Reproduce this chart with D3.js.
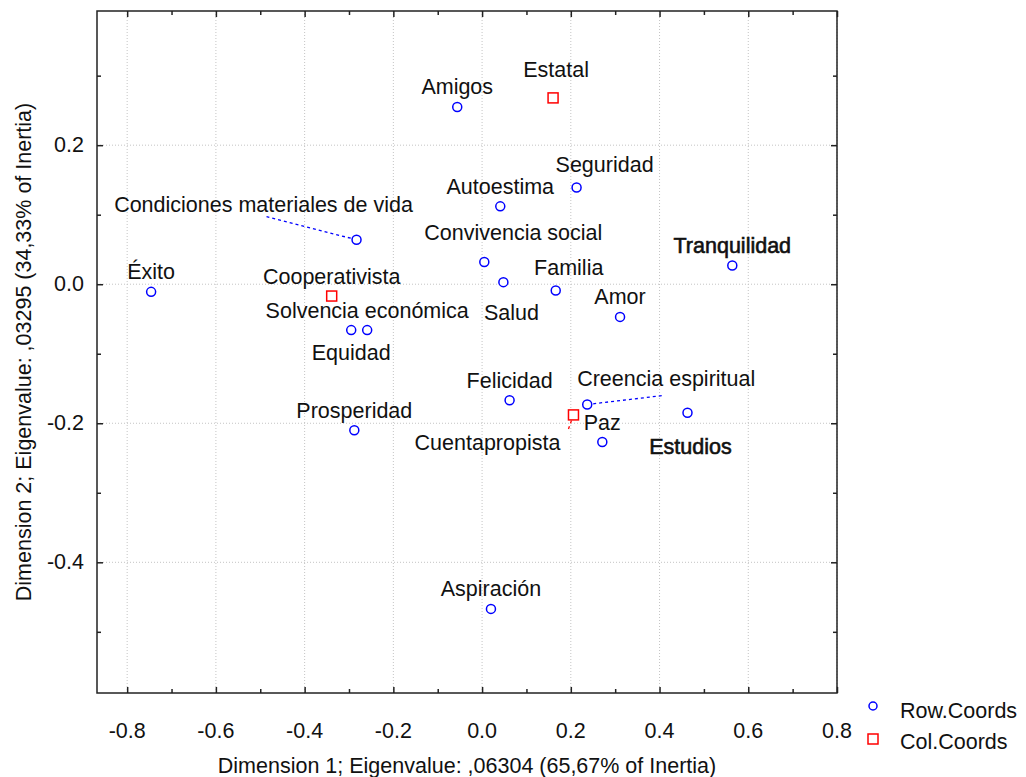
<!DOCTYPE html>
<html>
<head>
<meta charset="utf-8">
<script src="https://cdn.jsdelivr.net/npm/d3@7"></script>
<style>
	body { margin: 0; background: #fff; }
	text { font-family: "Liberation Sans", Arial, sans-serif; font-size: 21.5px; fill: #111; }
</style>
</head>
<body>
<div id="chart"></div>
<script>
var rowNames = ["Éxito", "Amigos", "Condiciones materiales de vida", "Autoestima", "Seguridad",
	"Convivencia social", "Salud", "Familia", "Tranquilidad", "Amor", "Solvencia económica",
	"Equidad", "Felicidad", "Creencia espiritual", "Estudios", "Paz", "Prosperidad", "Aspiración"];
var rowDim1 = [-0.746, -0.056, -0.283, 0.041, 0.213, 0.005, 0.048, 0.166, 0.564, 0.311, -0.259,
	-0.295, 0.062, 0.237, 0.463, 0.271, -0.288, 0.020];
var rowDim2 = [-0.011, 0.255, 0.064, 0.112, 0.139, 0.032, 0.003, -0.009, 0.027, -0.047, -0.066,
	-0.066, -0.167, -0.173, -0.185, -0.227, -0.210, -0.467];

var colNames = ["Estatal", "Cooperativista", "Cuentapropista"];
var colDim1 = [0.160, -0.339, 0.206];
var colDim2 = [0.268, -0.017, -0.188];

var xTicks = [-0.8, -0.6, -0.4, -0.2, 0.0, 0.2, 0.4, 0.6, 0.8];
var yTicks = [0.2, 0.0, -0.2, -0.4];

var xTitle = "Dimension 1; Eigenvalue: ,06304 (65,67% of Inertia)";
var yTitle = "Dimension 2; Eigenvalue: ,03295 (34,33% of Inertia)";
var legendNames = ["Row.Coords", "Col.Coords"];

// label placement (moved labels in the original graph)
var labelShift = {
	"Condiciones materiales de vida": [-93, -28],
	"Seguridad": [28, -16],
	"Convivencia social": [29, -22],
	"Salud": [8, 38],
	"Familia": [13, -15],
	"Equidad": [0, 30],
	"Creencia espiritual": [79, -18],
	"Estudios": [3, 41],
	"Estatal": [3, -21],
	"Cuentapropista": [-86, 35]
};
var leaders = {
	"Condiciones materiales de vida": [-90, -23],
	"Creencia espiritual": [76, -9],
	"Cuentapropista": [-5, 14]
};
var boldNames = ["Tranquilidad", "Estudios"];

var W = 1026, H = 777;
var pLeft = 97, pRight = 837, pTop = 11, pBottom = 693;

var x = d3.scaleLinear().domain([-0.868, 0.8]).range([pLeft, pRight]);
var y = d3.scaleLinear().domain([-0.588, 0.393]).range([pBottom, pTop]);

var svg = d3.select("#chart").append("svg")
	.attr("width", W)
	.attr("height", H);

svg.append("rect").attr("width", W).attr("height", H).attr("fill", "#fff");

//grid
svg.append("g").selectAll("line").data(xTicks).join("line")
	.attr("x1", d => x(d)).attr("x2", d => x(d))
	.attr("y1", pTop).attr("y2", pBottom)
	.attr("stroke", "#c4c4c4").attr("stroke-dasharray", "1,2");
svg.append("g").selectAll("line").data(yTicks).join("line")
	.attr("y1", d => y(d)).attr("y2", d => y(d))
	.attr("x1", pLeft).attr("x2", pRight)
	.attr("stroke", "#c4c4c4").attr("stroke-dasharray", "1,2");

//axes, ticks inside on all four sides
var xMinor = d3.range(-8, 9).map(d => d / 10).filter(d => Math.abs(Math.round(d * 10)) % 2 == 1);
var yMinor = d3.range(-5, 4).map(d => d / 10).filter(d => Math.abs(Math.round(d * 10)) % 2 == 1);

function tickAxis(axis, scale, pos, major, minor) {
	var g = svg.append("g").attr("transform", pos);
	g.call(axis(scale).tickValues(major).tickSize(-6).tickFormat(""));
	g.append("g").call(axis(scale).tickValues(minor).tickSize(-4).tickFormat(""));
	g.selectAll(".domain").remove();
	g.selectAll("line").attr("stroke", "#222").attr("stroke-width", 1.5);
	return g;
}
tickAxis(d3.axisBottom, x, "translate(0," + pBottom + ")", xTicks, xMinor);
tickAxis(d3.axisTop, x, "translate(0," + pTop + ")", xTicks, xMinor);
tickAxis(d3.axisLeft, y, "translate(" + pLeft + ",0)", yTicks, yMinor);
tickAxis(d3.axisRight, y, "translate(" + pRight + ",0)", yTicks, yMinor);

svg.append("rect")
	.attr("x", pLeft).attr("y", pTop)
	.attr("width", pRight - pLeft).attr("height", pBottom - pTop)
	.attr("fill", "none").attr("stroke", "#222").attr("stroke-width", 1.5);

svg.append("g").selectAll("text").data(xTicks).join("text")
	.attr("x", d => x(d)).attr("y", 738)
	.attr("text-anchor", "middle")
	.text(d => d3.format(".1f")(d).replace("−", "-"));
svg.append("g").selectAll("text").data(yTicks).join("text")
	.attr("x", pLeft - 13).attr("y", d => y(d) + 7)
	.attr("text-anchor", "end")
	.text(d => d3.format(".1f")(d).replace("−", "-"));

svg.append("text")
	.attr("x", (pLeft + pRight) / 2).attr("y", 773)
	.attr("text-anchor", "middle")
	.text(xTitle);
svg.append("text")
	.attr("transform", "translate(31," + (pTop + pBottom) / 2 + ") rotate(-90)")
	.attr("text-anchor", "middle")
	.text(yTitle);

var rows = rowNames.map((n, i) => ({name: n, d1: rowDim1[i], d2: rowDim2[i], kind: "row"}));
var cols = colNames.map((n, i) => ({name: n, d1: colDim1[i], d2: colDim2[i], kind: "col"}));
var all = rows.concat(cols);

//leader lines
svg.append("g").selectAll("line").data(all.filter(d => leaders[d.name])).join("line")
	.attr("x1", d => x(d.d1)).attr("y1", d => y(d.d2))
	.attr("x2", d => x(d.d1) + leaders[d.name][0])
	.attr("y2", d => y(d.d2) + leaders[d.name][1])
	.attr("stroke", d => d.kind == "row" ? "#0000ff" : "#ff0000")
	.attr("stroke-width", 1.3)
	.attr("stroke-dasharray", "3,3");

svg.append("g").selectAll("circle").data(rows).join("circle")
	.attr("cx", d => x(d.d1)).attr("cy", d => y(d.d2))
	.attr("r", 4.5)
	.attr("fill", "#fff").attr("stroke", "#0000ff").attr("stroke-width", 1.5);

svg.append("g").selectAll("rect").data(cols).join("rect")
	.attr("x", d => x(d.d1) - 5).attr("y", d => y(d.d2) - 5)
	.attr("width", 10).attr("height", 10)
	.attr("fill", "#fff").attr("stroke", "#ff0000").attr("stroke-width", 1.5);

svg.append("g").selectAll("text").data(all).join("text")
	.attr("x", d => x(d.d1) + (labelShift[d.name] ? labelShift[d.name][0] : 0))
	.attr("y", d => y(d.d2) + (labelShift[d.name] ? labelShift[d.name][1] : -12.5))
	.attr("text-anchor", "middle")
	.attr("stroke", d => boldNames.indexOf(d.name) >= 0 ? "#111" : "none")
	.attr("stroke-width", 0.6)
	.text(d => d.name);

//legend
var legend = svg.append("g").attr("transform", "translate(873,0)");
legend.append("circle").attr("cx", 0).attr("cy", 706).attr("r", 4)
	.attr("fill", "#fff").attr("stroke", "#0000ff").attr("stroke-width", 1.5);
legend.append("rect").attr("x", -5).attr("y", 734).attr("width", 10).attr("height", 10)
	.attr("fill", "#fff").attr("stroke", "#ff0000").attr("stroke-width", 1.5);
legend.selectAll("text").data(legendNames).join("text")
	.attr("x", 27).attr("y", (d, i) => 718 + i * 30.5)
	.text(d => d);
</script>
</body>
</html>
